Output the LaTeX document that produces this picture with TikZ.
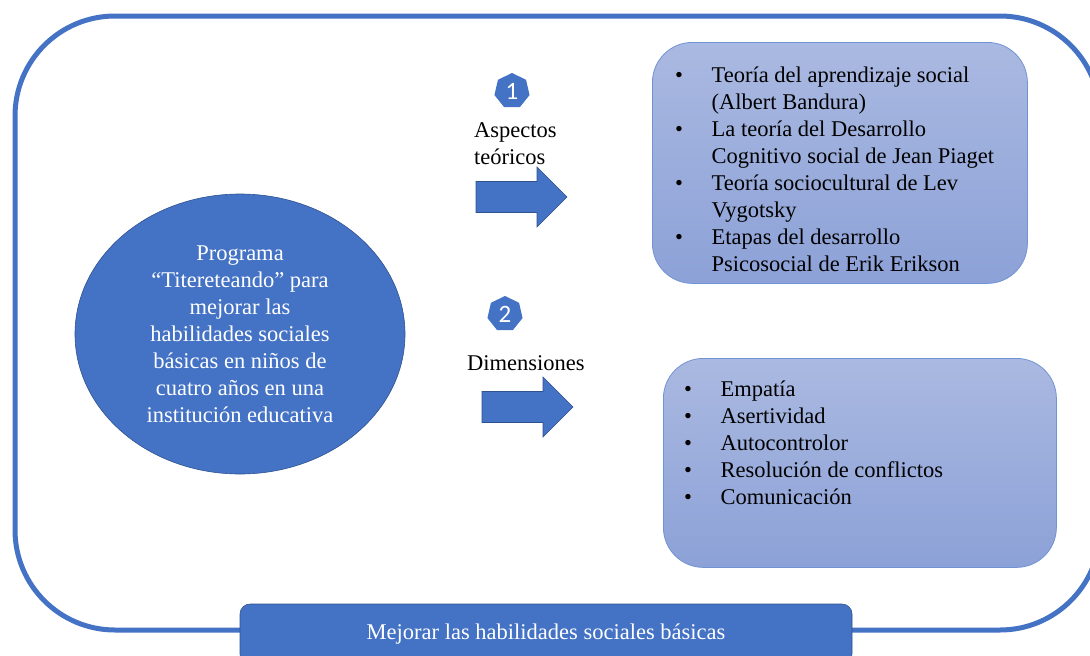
\documentclass[tikz,border=0pt]{standalone}
\usepackage{fontspec}
\setmainfont{Liberation Serif}
\newfontfamily\cifraFont{Carlito}
\usetikzlibrary{shapes.geometric,positioning}
\definecolor{azul}{HTML}{4472C4}
\definecolor{azulOscuro}{HTML}{2F528F}
\definecolor{cajaArriba}{HTML}{AAB9E1}
\definecolor{cajaAbajo}{HTML}{8CA1D7}
\definecolor{cajaBorde}{HTML}{7293D3}
\newcommand{\tamTexto}{\fontsize{22.5}{27}\selectfont}
\newcommand{\sangria}{36.5pt}
\newcommand{\vineta}[1]{\makebox[\sangria][l]{\textbullet}#1}
\newcommand{\sigue}[1]{\hspace*{\sangria}#1}
\newcommand{\bloqueFlecha}[2]{%
  \draw[flecha] (#1,#2) ++(0,-15.5) -- ++(61,0) -- ++(0,-14.5) -- ++(30,30)
    -- ++(-30,30) -- ++(0,-14.5) -- ++(-61,0) -- cycle;}
\tikzset{
  caja/.style={draw=cajaBorde, line width=0.8pt, rounded corners=40pt,
    top color=cajaArriba, bottom color=cajaAbajo, inner sep=0pt},
  lista/.style={align=left, inner sep=0pt, font=\tamTexto},
  insignia/.style={regular polygon, regular polygon sides=7, fill=azul,
    text=white, minimum size=36pt, inner sep=0pt,
    font=\cifraFont\fontsize{25}{25}\selectfont},
  flecha/.style={fill=azul, draw=azulOscuro, line width=0.6pt},
  rotulo/.style={align=left, inner sep=0pt, font=\tamTexto}
}

\begin{document}
\begin{tikzpicture}[x=1pt, y=-1pt]
  \useasboundingbox (0,0) rectangle (1090,656);
  \clip (0,0) rectangle (1090,656);
  % marco exterior
  \draw[azul, line width=5pt, rounded corners=100pt] (15,16) rectangle (1100,630);

  \node[ellipse, fill=azul, draw=azulOscuro, line width=0.6pt, minimum width=330pt,
    minimum height=280pt, text=white, align=center, font=\tamTexto, inner sep=0pt]
    (programa) at (240,334) {Programa\\“Titereteando” para\\mejorar las\\habilidades sociales\\básicas en niños de\\cuatro años en una\\institución educativa};

  \node[insignia] (uno) at (512,91) {1};
  \node[rotulo, anchor=west] (aspectos) at (474,144) {Aspectos\\teóricos};
  \bloqueFlecha{476}{197}

  \node[insignia] (dos) at (505,314) {2};
  \node[rotulo, anchor=west] (dimrotulo) at (467,363) {Dimensiones};
  \bloqueFlecha{482}{407}

  \node[caja, minimum width=375pt, minimum height=241pt, anchor=north west] (teorias) at (652,42) {};
  \node[lista, below right=24.5pt and 23pt of teorias.north west] (teoriasLista)
    {\vineta{Teoría del aprendizaje social}\\ \sigue{(Albert Bandura)}\\
     \vineta{La teoría del Desarrollo}\\ \sigue{Cognitivo social de Jean Piaget}\\
     \vineta{Teoría sociocultural de Lev}\\ \sigue{Vygotsky}\\
     \vineta{Etapas del desarrollo}\\ \sigue{Psicosocial de Erik Erikson}};

  \node[caja, minimum width=393pt, minimum height=209pt, anchor=north west] (dimensiones) at (663,358) {};
  \node[lista, below right=22.5pt and 21pt of dimensiones.north west] (dimensionesLista)
    {\vineta{Empatía}\\ \vineta{Asertividad}\\ \vineta{Autocontrolor}\\
     \vineta{Resolución de conflictos}\\ \vineta{Comunicación}};

  \node[fill=azul, draw=azulOscuro, line width=0.6pt, rounded corners=10pt, minimum width=612pt,
    minimum height=60pt, text=white, font=\tamTexto, inner sep=0pt]
    (meta) at (546,634) {Mejorar las habilidades sociales básicas};
\end{tikzpicture}
\end{document}
